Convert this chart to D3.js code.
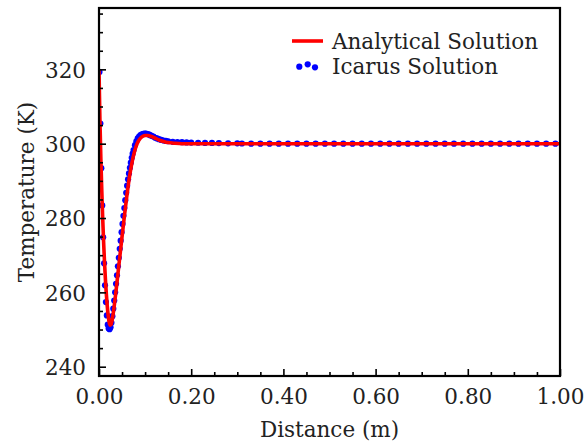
<!DOCTYPE html>
<html>
<head>
<meta charset="utf-8">
<script src="https://cdn.jsdelivr.net/npm/d3@7"></script>
<style>
  html, body { margin: 0; padding: 0; background: #fff; }
  svg { display: block; font-family: "DejaVu Serif", serif; }
</style>
</head>
<body>
<svg id="chart" width="585" height="444"></svg>
<script>
// Analytical temperature profile along the domain
const analyticalX = [0, 0.001, 0.002, 0.004, 0.006, 0.008, 0.010, 0.012, 0.014, 0.016, 0.018, 0.020,
  0.022, 0.024, 0.026, 0.028, 0.030, 0.033, 0.036, 0.040, 0.044, 0.048, 0.052, 0.056, 0.060, 0.064,
  0.068, 0.072, 0.076, 0.080, 0.085, 0.090, 0.095, 0.100, 0.106, 0.112, 0.120, 0.130, 0.140, 0.150,
  0.165, 0.180, 0.250, 0.400, 0.600, 0.800, 1.000];
const analyticalT = [320, 313, 306.5, 296, 287.5, 280, 273.5, 268, 263.3, 259.4, 256.2, 253.7,
  252.0, 251.2, 251.3, 252.2, 253.6, 256.3, 259.4, 263.8, 268.3, 272.8, 277.2, 281.5, 285.6, 289.3,
  292.5, 295.2, 297.4, 299.1, 300.6, 301.5, 302.0, 302.2, 302.2, 302.0, 301.6, 301.0, 300.6, 300.3,
  300.1, 300.0, 300, 300, 300, 300, 300];

// Icarus cell values
const icarusX = [0.001, 0.003, 0.005, 0.007, 0.009, 0.011, 0.013, 0.015, 0.017, 0.019, 0.021, 0.023,
  0.025, 0.027, 0.029, 0.031, 0.033, 0.035, 0.037, 0.039, 0.041, 0.043, 0.045, 0.047, 0.049, 0.051,
  0.053, 0.055, 0.057, 0.059, 0.061, 0.063, 0.065, 0.067, 0.069, 0.071, 0.073, 0.075, 0.078, 0.081,
  0.084, 0.087, 0.090, 0.093, 0.096, 0.099, 0.102, 0.105, 0.108, 0.111, 0.114, 0.118, 0.122, 0.126,
  0.130, 0.135, 0.140, 0.145, 0.150, 0.160, 0.170, 0.180, 0.190, 0.200, 0.215, 0.230, 0.245, 0.260,
  0.280, 0.300, 0.310, 0.330, 0.350, 0.370, 0.390, 0.410, 0.430, 0.450, 0.470, 0.490, 0.510, 0.530,
  0.550, 0.570, 0.590, 0.610, 0.630, 0.650, 0.670, 0.690, 0.710, 0.730, 0.750, 0.770, 0.790, 0.810,
  0.830, 0.850, 0.870, 0.890, 0.910, 0.930, 0.950, 0.970, 0.990];
const icarusT = [319.3, 305.4, 293.4, 283.4, 274.8, 267.8, 261.9, 257.4, 253.8, 251.3, 250.3, 250.1,
  250.6, 251.8, 253.6, 255.6, 257.8, 260.0, 262.3, 264.6, 267.0, 269.3, 271.7, 273.9, 276.2, 278.4,
  280.6, 282.7, 284.8, 286.8, 288.7, 290.4, 292.0, 293.5, 294.9, 296.2, 297.3, 298.3, 299.6, 300.6,
  301.4, 301.9, 302.3, 302.5, 302.65, 302.7, 302.7, 302.6, 302.5, 302.3, 302.1, 301.9, 301.6, 301.4,
  301.2, 301.0, 300.85, 300.75, 300.65, 300.5, 300.45, 300.4, 300.35, 300.3, 300.25, 300.2, 300.2, 300.15,
  300.1, 300.1, 300.05, 300, 300, 300, 300, 300, 300, 300, 300, 300, 300, 300,
  300, 300, 300, 300, 300, 300, 300, 300, 300, 300, 300, 300, 300, 300,
  300, 300, 300, 300, 300, 300, 300, 300, 300];

// Axis ticks
const xMajorTicks = [0, 0.2, 0.4, 0.6, 0.8, 1.0];
const xMinorTicks = [0.05, 0.1, 0.15, 0.25, 0.3, 0.35, 0.45, 0.5, 0.55, 0.65, 0.7, 0.75, 0.85, 0.9, 0.95];
const yMajorTicks = [240, 260, 280, 300, 320];
const yMinorTicks = [245, 250, 255, 265, 270, 275, 285, 290, 295, 305, 310, 315, 325, 330, 335];

const seriesNames = ["Analytical Solution", "Icarus Solution"];
const seriesColors = ["#ff0000", "#0000ff"];

const FONT = 21.5;
const svg = d3.select("#chart");
const m = { left: 99, right: 560, top: 8, bottom: 376 };

const x = d3.scaleLinear().domain([0, 1]).range([m.left, m.right]);
const y = d3.scaleLinear().domain([237.5, 336.5]).range([m.bottom, m.top]);

const plot = svg.append("g");
plot.append("clipPath").attr("id", "clip")
  .append("rect").attr("x", m.left).attr("y", m.top)
  .attr("width", m.right - m.left).attr("height", m.bottom - m.top);

const icarus = icarusX.map((d, i) => [d, icarusT[i]]);
const analytical = analyticalX.map((d, i) => [d, analyticalT[i]]);

// Icarus points (under the analytical curve)
plot.append("g").attr("clip-path", "url(#clip)")
  .selectAll("circle").data(icarus).join("circle")
  .attr("cx", d => x(d[0])).attr("cy", d => y(d[1]))
  .attr("r", 3.1).attr("fill", seriesColors[1]);

// Analytical curve
plot.append("path").datum(analytical)
  .attr("clip-path", "url(#clip)")
  .attr("fill", "none").attr("stroke", seriesColors[0]).attr("stroke-width", 3.6)
  .attr("stroke-linejoin", "round")
  .attr("d", d3.line().x(d => x(d[0])).y(d => y(d[1])).curve(d3.curveMonotoneX));

// Axes with inward ticks
const fmtX = d3.format(".2f");
const xAxis = svg.append("g").attr("transform", `translate(0,${m.bottom})`)
  .call(d3.axisBottom(x).tickValues(xMajorTicks).tickFormat(fmtX).tickSizeInner(-7).tickSizeOuter(0).tickPadding(13));
const xAxisMinor = svg.append("g").attr("transform", `translate(0,${m.bottom})`)
  .call(d3.axisBottom(x).tickValues(xMinorTicks).tickFormat("").tickSizeInner(-4).tickSizeOuter(0));
const yAxis = svg.append("g").attr("transform", `translate(${m.left},0)`)
  .call(d3.axisLeft(y).tickValues(yMajorTicks).tickFormat(d3.format("d")).tickSizeInner(-7).tickSizeOuter(0).tickPadding(13));
const yAxisMinor = svg.append("g").attr("transform", `translate(${m.left},0)`)
  .call(d3.axisLeft(y).tickValues(yMinorTicks).tickFormat("").tickSizeInner(-4).tickSizeOuter(0));

[xAxis, xAxisMinor, yAxis, yAxisMinor].forEach(g => {
  g.select(".domain").remove();
  g.selectAll(".tick line").attr("stroke", "#000").attr("stroke-width", 1.6);
  g.selectAll(".tick text").attr("font-family", "DejaVu Serif").attr("font-size", FONT).attr("fill", "#222");
});
yAxis.selectAll(".tick text").attr("dy", "0.36em");

// Frame
svg.append("rect").attr("x", m.left).attr("y", m.top)
  .attr("width", m.right - m.left).attr("height", m.bottom - m.top)
  .attr("fill", "none").attr("stroke", "#000").attr("stroke-width", 2.2);

// Axis titles
svg.append("text").attr("x", (m.left + m.right) / 2).attr("y", 437)
  .attr("text-anchor", "middle").attr("font-size", FONT).attr("fill", "#222")
  .text("Distance (m)");
svg.append("text").attr("transform", `translate(34,${(m.top + m.bottom) / 2}) rotate(-90)`)
  .attr("text-anchor", "middle").attr("font-size", FONT).attr("fill", "#222")
  .text("Temperature (K)");

// Legend
const lg = svg.append("g");
lg.append("line").attr("x1", 292).attr("x2", 323).attr("y1", 41).attr("y2", 41)
  .attr("stroke", seriesColors[0]).attr("stroke-width", 3.6);
lg.append("text").attr("x", 332).attr("y", 48.5).attr("font-size", FONT).attr("fill", "#222").text(seriesNames[0]);
const legendDots = [[299.3, 66.7], [307.7, 64.3], [315, 67.3]];
lg.selectAll("circle").data(legendDots).join("circle")
  .attr("cx", d => d[0]).attr("cy", d => d[1]).attr("r", 3.1).attr("fill", seriesColors[1]);
lg.append("text").attr("x", 332).attr("y", 73.5).attr("font-size", FONT).attr("fill", "#222").text(seriesNames[1]);
</script>
</body>
</html>
